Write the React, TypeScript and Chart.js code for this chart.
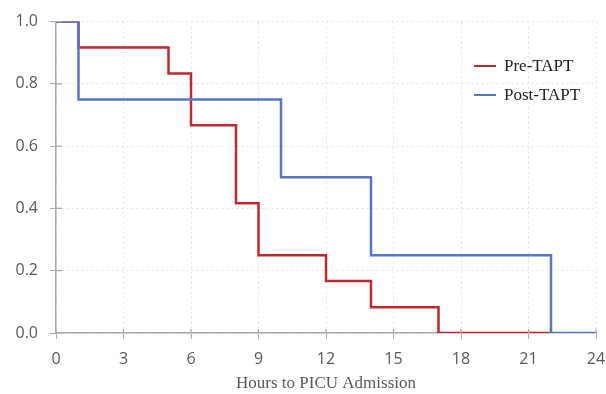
import React, { useEffect, useRef } from "react";
import { Chart, registerables } from "chart.js";

Chart.register(...registerables);

const preTimes = [0, 1, 5, 6, 8, 9, 12, 14, 17, 22];
const preSurv = [1.0, 0.917, 0.833, 0.667, 0.417, 0.25, 0.167, 0.083, 0, 0];
const postTimes = [0, 1, 10, 14, 22, 24];
const postSurv = [1.0, 0.75, 0.5, 0.25, 0, 0];
const xTicks = [0, 3, 6, 9, 12, 15, 18, 21, 24];
const yTicks = [0, 0.2, 0.4, 0.6, 0.8, 1.0];
const seriesNames = ["Pre-TAPT", "Post-TAPT"];
const seriesColors = ["#bb2a2e", "#5577c6"];
const xTitle = "Hours to PICU Admission";

const innerTicks = {
  id: "innerTicks",
  afterDatasetsDraw(chart: any) {
    const { ctx, chartArea, scales } = chart;
    ctx.save();
    ctx.strokeStyle = "#aaaaaa";
    ctx.lineWidth = 1.2;
    ctx.beginPath();
    for (const v of yTicks) {
      const y = scales.y.getPixelForValue(v);
      ctx.moveTo(chartArea.left, y);
      ctx.lineTo(chartArea.left + 6, y);
    }
    for (const v of xTicks) {
      const x = scales.x.getPixelForValue(v);
      ctx.moveTo(x, chartArea.bottom);
      ctx.lineTo(x, chartArea.bottom - 4);
    }
    ctx.stroke();
    ctx.restore();
  },
};

export default function App() {
  const ref = useRef<HTMLCanvasElement>(null);
  useEffect(() => {
    if (!ref.current) return;
    const chart = new Chart(ref.current, {
      type: "line",
      data: {
        datasets: [
          {
            label: seriesNames[0],
            data: preTimes.map((t, i) => ({ x: t, y: preSurv[i] })),
            borderColor: seriesColors[0],
            backgroundColor: seriesColors[0],
            borderWidth: 2.5,
            stepped: "before",
            pointRadius: 0,
            fill: false,
            order: 2,
          },
          {
            label: seriesNames[1],
            data: postTimes.map((t, i) => ({ x: t, y: postSurv[i] })),
            borderColor: seriesColors[1],
            backgroundColor: seriesColors[1],
            borderWidth: 2.5,
            stepped: "before",
            pointRadius: 0,
            fill: false,
            order: 1,
          },
        ],
      },
      options: {
        animation: false,
        responsive: false,
        layout: { padding: { top: 20, right: 10, left: 0, bottom: 0 } },
        plugins: { legend: { display: false }, tooltip: { enabled: false } },
        scales: {
          x: {
            type: "linear",
            min: 0,
            max: 24,
            afterBuildTicks: (s: any) => {
              s.ticks = xTicks.map((v) => ({ value: v }));
            },
            afterFit: (s: any) => {
              s.height = 61;
              s.paddingLeft = 0;
              s.paddingRight = 0;
            },
            ticks: {
              color: "#595959",
              font: { family: "'Open Sans', sans-serif", size: 16 },
              padding: 11,
            },
            grid: {
              color: "#e2e2e2",
              tickColor: "#aaaaaa",
              tickBorderDash: [],
              tickLength: 6,
              drawTicks: true,
            } as any,
            border: { color: "#aaaaaa", width: 1.5, dash: [2, 3] } as any,
            title: {
              display: true,
              text: xTitle,
              color: "#595959",
              font: { family: "'Liberation Serif', 'Times New Roman', serif", size: 17 },
              padding: { top: 0, bottom: 0 },
            },
          },
          y: {
            type: "linear",
            min: 0,
            max: 1,
            afterBuildTicks: (s: any) => {
              s.ticks = yTicks.map((v) => ({ value: v }));
            },
            afterFit: (s: any) => {
              s.width = 56;
            },
            ticks: {
              color: "#595959",
              font: { family: "'Open Sans', sans-serif", size: 16 },
              padding: 12,
              callback: (v: any) => Number(v).toFixed(1),
            },
            grid: {
              color: "#e2e2e2",
              tickColor: "#aaaaaa",
              tickBorderDash: [],
              tickLength: 6,
              drawTicks: true,
            } as any,
            border: { color: "#aaaaaa", width: 1.5, dash: [2, 3] } as any,
          },
        },
      },
      plugins: [innerTicks],
    } as any);
    return () => chart.destroy();
  }, []);

  const legendRow = (i: number, top: number) => (
    <div
      key={i}
      style={{
        position: "absolute",
        left: 474,
        top,
        display: "flex",
        alignItems: "center",
        fontFamily: "'Liberation Serif', 'Times New Roman', serif",
        fontSize: 17,
        color: "#222",
        whiteSpace: "nowrap",
      }}
    >
      <span
        style={{
          display: "inline-block",
          width: 22,
          height: 2.5,
          background: seriesColors[i],
          marginRight: 8,
        }}
      />
      {seriesNames[i]}
    </div>
  );

  return (
    <div style={{ position: "fixed", left: 0, top: 0, width: 606, height: 394, background: "#fff" }}>
      <canvas ref={ref} width={606} height={394} style={{ display: "block" }} />
      {legendRow(0, 56)}
      {legendRow(1, 85)}
    </div>
  );
}
